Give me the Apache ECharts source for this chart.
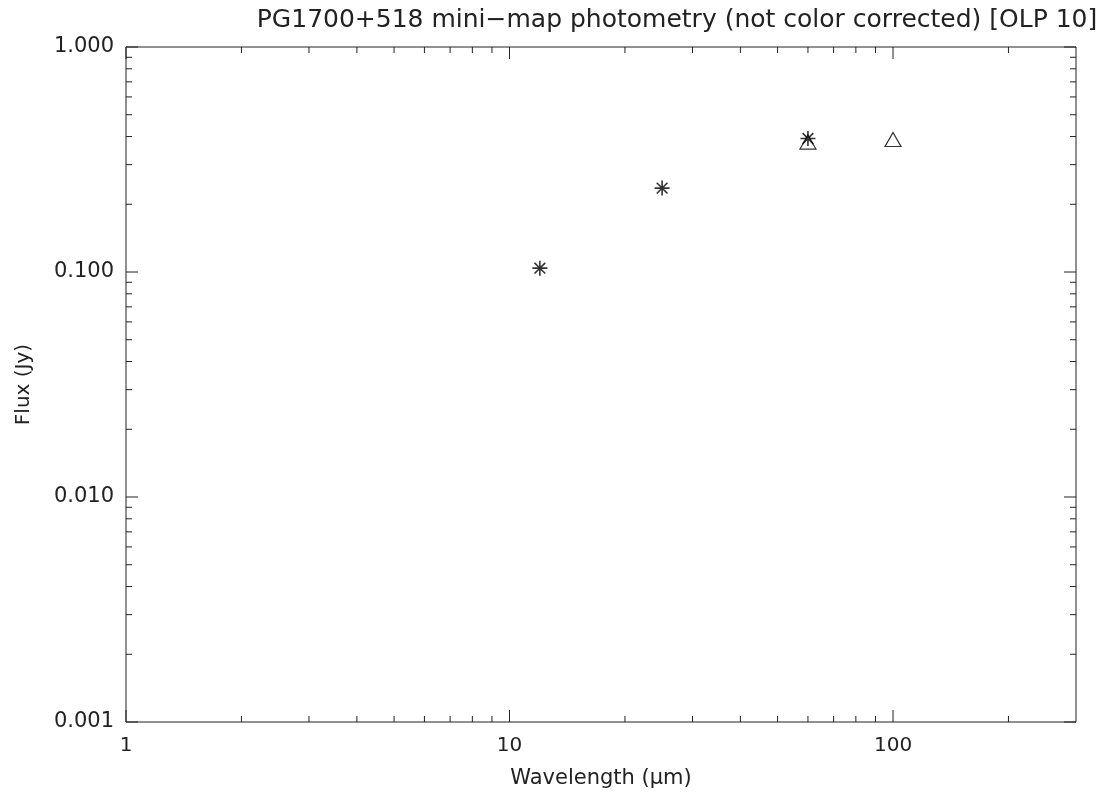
<!DOCTYPE html>
<html>
<head>
<meta charset="utf-8">
<script src="https://cdn.jsdelivr.net/npm/echarts@6/dist/echarts.min.js"></script>
<style>html,body{margin:0;padding:0;background:#fff}#c{width:1109px;height:796px}</style>
</head>
<body>
<div id="c"></div>
<script>
// Data
const asteriskPoints = [[12, 0.104], [25, 0.236], [60, 0.392]];
const trianglePoints = [[60, 0.378], [100, 0.388]];
const xMajorTicks = [1, 10, 100];
const xMinorTicks = [2, 3, 4, 5, 6, 7, 8, 9, 20, 30, 40, 50, 60, 70, 80, 90, 200];
const yMajorTicks = [0.001, 0.01, 0.1, 1];
const yMinorTicks = [0.002,0.003,0.004,0.005,0.006,0.007,0.008,0.009,0.02,0.03,0.04,0.05,0.06,0.07,0.08,0.09,0.2,0.3,0.4,0.5,0.6,0.7,0.8,0.9];
const xMin = 1, xMax = 300, yMin = 0.001, yMax = 1;
const titleText = 'PG1700+518 mini\u2212map photometry (not color corrected) [OLP 10]';

const chart = echarts.init(document.getElementById('c'), null, {renderer: 'canvas'});
const font = 'DejaVu Sans';
const ink = '#222';

const xTickData = xMajorTicks.map(v => [v, 1]).concat(xMinorTicks.map(v => [v, 0]));
const yTickData = yMajorTicks.map(v => [v, 1]).concat(yMinorTicks.map(v => [v, 0]));

function xTickRender(params, api) {
  const v = api.value(0), major = api.value(1);
  const len = major ? 12 : 6;
  const b = api.coord([v, yMin]);
  const t = api.coord([v, yMax]);
  return {type: 'group', children: [
    {type: 'line', shape: {x1: b[0], y1: b[1], x2: b[0], y2: b[1] - len}, style: {stroke: ink, lineWidth: 1}},
    {type: 'line', shape: {x1: t[0], y1: t[1], x2: t[0], y2: t[1] + len}, style: {stroke: ink, lineWidth: 1}}
  ]};
}
function yTickRender(params, api) {
  const v = api.value(0), major = api.value(1);
  const len = major ? 12 : 6;
  const l = api.coord([xMin, v]);
  const r = api.coord([xMax, v]);
  return {type: 'group', children: [
    {type: 'line', shape: {x1: l[0], y1: l[1], x2: l[0] + len, y2: l[1]}, style: {stroke: ink, lineWidth: 1}},
    {type: 'line', shape: {x1: r[0], y1: r[1], x2: r[0] - len, y2: r[1]}, style: {stroke: ink, lineWidth: 1}}
  ]};
}

const option = {
  animation: false,
  backgroundColor: '#fff',
  title: {
    text: titleText, left: 672, top: 3, textAlign: 'center',
    textStyle: {fontFamily: font, fontSize: 25, fontWeight: 'normal', color: ink}
  },
  grid: {left: 126, right: 33, top: 47, bottom: 74, containLabel: false, outerBoundsMode: 'none',
    show: true, borderColor: ink, borderWidth: 1, backgroundColor: 'transparent'},
  xAxis: {
    type: 'log', logBase: 10, min: xMin, max: xMax,
    name: 'Wavelength (\u03bcm)', nameLocation: 'middle', nameGap: 46,
    nameTextStyle: {fontFamily: font, fontSize: 21, color: ink},
    axisLine: {show: false}, axisTick: {show: false}, splitLine: {show: false},
    axisLabel: {fontFamily: font, fontSize: 20, color: ink, margin: 14,
      formatter: v => (Math.abs(Math.log10(v) - Math.round(Math.log10(v))) < 1e-6 ? String(Math.round(v)) : '')}
  },
  yAxis: {
    type: 'log', logBase: 10, min: yMin, max: yMax,
    name: 'Flux (Jy)', nameLocation: 'middle', nameGap: 92, nameRotate: 90,
    nameTextStyle: {fontFamily: font, fontSize: 20, color: ink},
    axisLine: {show: false}, axisTick: {show: false}, splitLine: {show: false},
    axisLabel: {fontFamily: font, fontSize: 21, color: ink, margin: 12,
      formatter: v => v.toFixed(3)}
  },
  series: [
    {type: 'custom', data: xTickData, renderItem: xTickRender, clip: false, silent: true, z: 1},
    {type: 'custom', data: yTickData, renderItem: yTickRender, clip: false, silent: true, z: 1},
    {type: 'scatter', data: trianglePoints, symbol: 'triangle', symbolSize: [16, 14],
      itemStyle: {color: 'rgba(0,0,0,0)', borderColor: '#000', borderWidth: 1.2}, z: 3},
    {type: 'scatter', data: asteriskPoints,
      symbol: 'path://M0,-7L0,7M-7,0L7,0M-5,-5L5,5M-5,5L5,-5', symbolSize: 15,
      itemStyle: {color: 'rgba(0,0,0,0)', borderColor: '#000', borderWidth: 1.6}, z: 4}
  ]
};
chart.setOption(option);
</script>
</body>
</html>
